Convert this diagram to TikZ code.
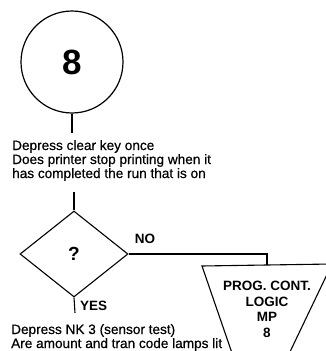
\documentclass[tikz,border=0pt]{standalone}
\usepackage{fontspec}
\setmainfont{Liberation Sans}
\newfontfamily\bodyfont[FakeBold=0.5]{Liberation Sans}
\usetikzlibrary{shapes.geometric}
\tikzset{
  flowline/.style={line width=1.1pt, line cap=butt},
  % anchored at the baseline of the last line
  bodytext/.style={align=left, anchor=base west, inner sep=0pt,
    font=\bodyfont\fontsize{13.6}{14}\selectfont},
  tag/.style={inner sep=0pt, font=\bfseries\fontsize{13.5}{14}\selectfont},
}
\begin{document}
\begin{tikzpicture}[x=1pt,y=-1pt]
  \useasboundingbox (0,0) rectangle (325,351);

  % entry point circle
  \node[circle, draw, line width=1.2pt, minimum size=102pt, inner sep=0pt,
        font=\bfseries\fontsize{35}{35}\selectfont] (start) at (72,62) {8};
  \coordinate (startend) at (72,133);
  \draw[flowline] (start) -- (startend);

  % first instruction
  \node[bodytext] (stepone) at (12,178)
    {Depress clear key once\\Does printer stop printing when it\\has completed the run that is on};

  % decision
  \coordinate (decin) at (74,192);
  \node[diamond, draw, line width=1.1pt, minimum width=108pt, minimum height=86pt,
        inner sep=0pt, font=\bfseries\fontsize{19}{19}\selectfont] (dec) at (74,254) {?};
  \draw[flowline] (decin) -- (dec.north);

  % NO branch to off-page connector
  \node[tag] (nolab) at (145,239) {NO};
  \coordinate (mptop) at (267,265);
  \draw[flowline] (dec.east) -- (mptop |- dec.east) -- (mptop);

  % off-page connector triangle (runs past the lower edge)
  \coordinate (tl) at (202,266);
  \coordinate (tr) at (332,264);
  \coordinate (bl) at (233,356);
  \coordinate (br) at (288,356);
  \draw[flowline] (bl) -- (tl) -- (tr) -- (br);
  \node[align=center, inner sep=0pt, anchor=north,
        font=\bfseries\fontsize{13.5}{15.5}\selectfont] (mp) at (267,281)
    {PROG. CONT.\\LOGIC\\MP\\8};

  % YES branch
  \coordinate (yesend) at (75,313);
  \draw[flowline] (dec.south) -- (yesend);
  \node[tag, anchor=west] (yeslab) at (80,306) {YES};

  % second instruction
  \node[bodytext] (steptwo) at (11,348)
    {Depress NK 3 (sensor test)\\Are amount and tran code lamps lit};
\end{tikzpicture}
\end{document}
